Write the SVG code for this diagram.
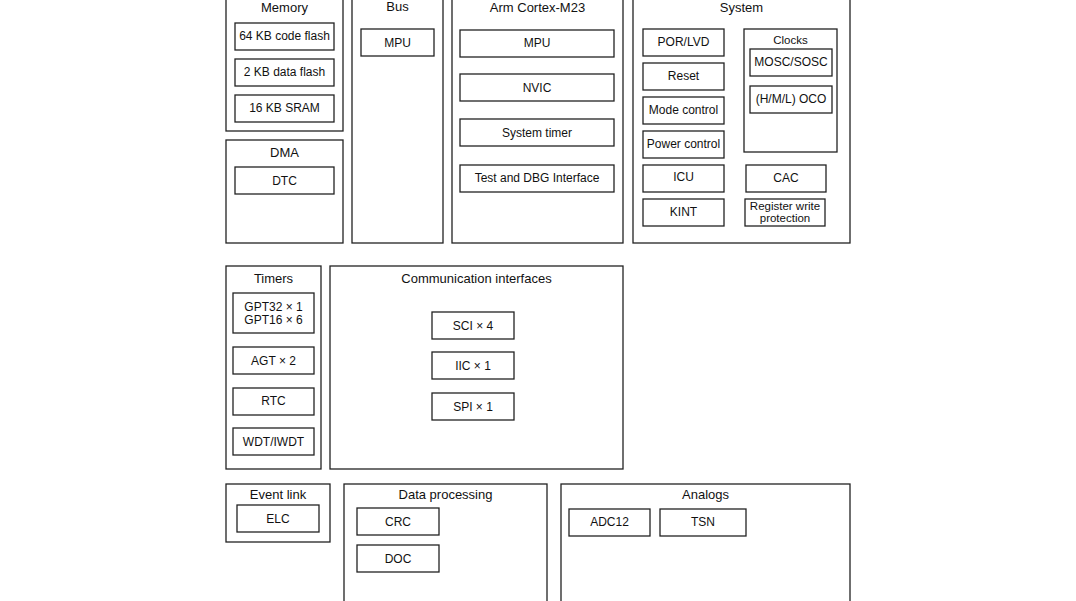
<svg xmlns="http://www.w3.org/2000/svg" width="1076" height="601" viewBox="0 0 1076 601">
<style>
rect{fill:#fff;stroke:#222;stroke-width:1.3}
text{font-family:"Liberation Sans",Arial,sans-serif;fill:#111;text-anchor:middle}
.t{font-size:13px}.b{font-size:12px}.s{font-size:11.5px}
</style>
<rect x="0" y="0" width="1076" height="601" style="stroke:none"/>
<g id="memory"><rect x="226" y="-2" width="117" height="133"/><text class="t" x="284.5" y="12">Memory</text>
<rect x="235" y="23" width="99" height="27"/><text class="b" x="284.5" y="40">64 KB code flash</text>
<rect x="235" y="59" width="99" height="27"/><text class="b" x="284.5" y="76">2 KB data flash</text>
<rect x="235" y="95" width="99" height="27"/><text class="b" x="284.5" y="112">16 KB SRAM</text></g>
<g id="dma"><rect x="226" y="140" width="117" height="103"/><text class="t" x="284.5" y="157">DMA</text>
<rect x="235" y="167" width="99" height="27"/><text class="b" x="284.5" y="185">DTC</text></g>
<g id="bus"><rect x="352" y="-2" width="91" height="245"/><text class="t" x="397.5" y="11">Bus</text>
<rect x="361" y="29" width="73" height="27"/><text class="b" x="397.5" y="47">MPU</text></g>
<g id="arm"><rect x="452" y="-2" width="171" height="245"/><text class="t" x="537.5" y="12">Arm Cortex-M23</text>
<rect x="460" y="30" width="154" height="27"/><text class="b" x="537" y="47">MPU</text>
<rect x="460" y="74" width="154" height="27"/><text class="b" x="537" y="92">NVIC</text>
<rect x="460" y="119" width="154" height="27"/><text class="b" x="537" y="137">System timer</text>
<rect x="460" y="165" width="154" height="27"/><text class="b" x="537" y="182">Test and DBG Interface</text></g>
<g id="system"><rect x="633" y="-2" width="217" height="245"/><text class="t" x="741.5" y="12">System</text>
<rect x="643" y="29" width="81" height="27"/><text class="b" x="683.5" y="46">POR/LVD</text>
<rect x="643" y="63" width="81" height="27"/><text class="b" x="683.5" y="80">Reset</text>
<rect x="643" y="97" width="81" height="27"/><text class="b" x="683.5" y="114">Mode control</text>
<rect x="643" y="131" width="81" height="27"/><text class="b" x="683.5" y="148">Power control</text>
<rect x="643" y="165" width="81" height="27"/><text class="b" x="683.5" y="181">ICU</text>
<rect x="643" y="199" width="81" height="27"/><text class="b" x="683.5" y="216">KINT</text>
<rect x="744" y="29" width="93" height="123"/><text class="s" x="790.5" y="44">Clocks</text>
<rect x="750" y="49" width="82" height="27"/><text class="b" x="791" y="66">MOSC/SOSC</text>
<rect x="750" y="86" width="82" height="27"/><text class="b" x="791" y="103">(H/M/L) OCO</text>
<rect x="746" y="165" width="80" height="27"/><text class="b" x="786" y="182">CAC</text>
<rect x="745" y="199" width="80" height="27"/><text class="s" x="785" y="210">Register write</text><text class="s" x="785" y="222">protection</text></g>
<g id="timers"><rect x="226" y="266" width="95" height="203"/><text class="t" x="273.5" y="283">Timers</text>
<rect x="233" y="293" width="81" height="40"/><text class="b" x="273.5" y="311">GPT32 × 1</text><text class="b" x="273.5" y="324">GPT16 × 6</text>
<rect x="233" y="347" width="81" height="27"/><text class="b" x="273.5" y="365">AGT × 2</text>
<rect x="233" y="388" width="81" height="27"/><text class="b" x="273.5" y="405">RTC</text>
<rect x="233" y="428" width="81" height="27"/><text class="b" x="273.5" y="446">WDT/IWDT</text></g>
<g id="comm"><rect x="330" y="266" width="293" height="203"/><text class="t" x="476.5" y="283">Communication interfaces</text>
<rect x="432" y="312" width="82" height="27"/><text class="b" x="473" y="330">SCI × 4</text>
<rect x="432" y="352" width="82" height="27"/><text class="b" x="473" y="370">IIC × 1</text>
<rect x="432" y="393" width="82" height="27"/><text class="b" x="473" y="411">SPI × 1</text></g>
<g id="eventlink"><rect x="226" y="484" width="104" height="58"/><text class="t" x="278" y="499">Event link</text>
<rect x="237" y="505" width="82" height="27"/><text class="b" x="278" y="523">ELC</text></g>
<g id="dataproc"><rect x="344" y="484" width="203" height="130"/><text class="t" x="445.5" y="499">Data processing</text>
<rect x="357" y="508" width="82" height="27"/><text class="b" x="398" y="526">CRC</text>
<rect x="357" y="545" width="82" height="27"/><text class="b" x="398" y="563">DOC</text></g>
<g id="analogs"><rect x="561" y="484" width="289" height="130"/><text class="t" x="705.5" y="499">Analogs</text>
<rect x="569" y="509" width="81" height="27"/><text class="b" x="609.5" y="526">ADC12</text>
<rect x="660" y="509" width="86" height="27"/><text class="b" x="703" y="526">TSN</text></g>
<g id="connectors"/>
</svg>
